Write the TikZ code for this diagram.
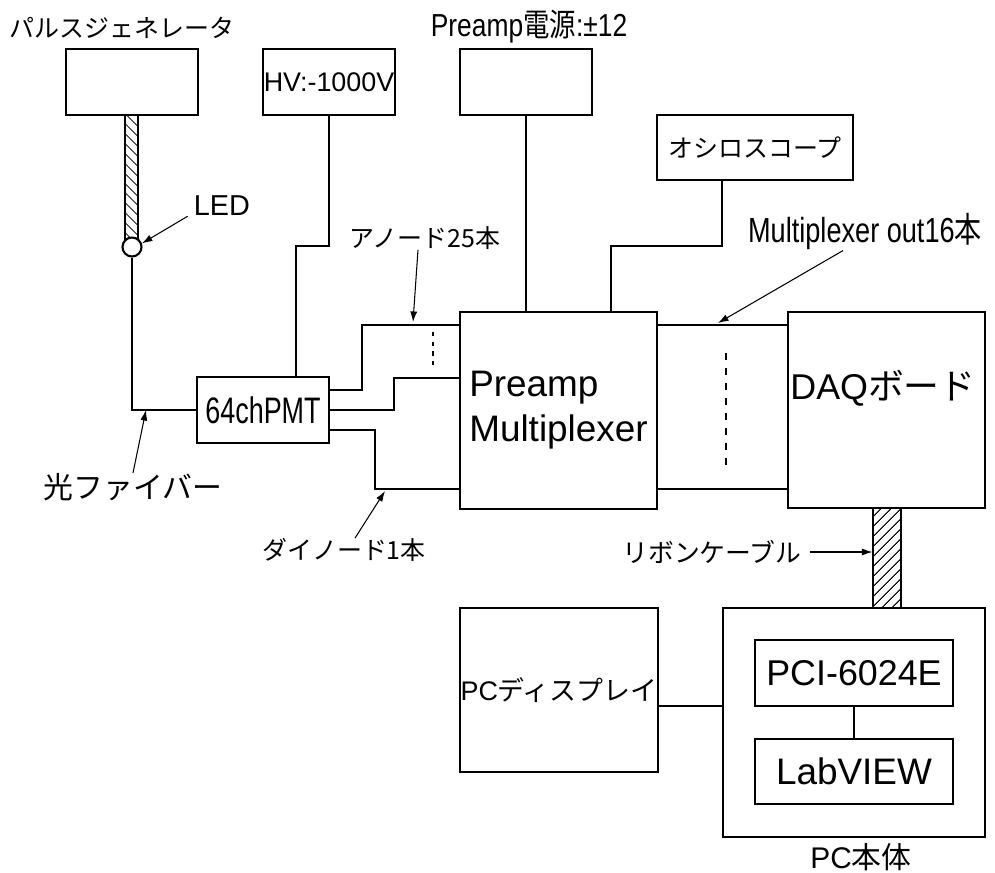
\documentclass[tikz,border=0pt]{standalone}
\usepackage{fontspec}
\usepackage{graphicx}
\setmainfont{Liberation Sans}
\newfontfamily\jp{Noto Sans CJK JP}
\usetikzlibrary{patterns.meta,arrows.meta}
\newcommand{\setpt}[2]{\fontsize{#1}{#2}\selectfont}
\newcommand{\squeeze}[2]{\scalebox{#1}[1]{#2}}

\begin{document}
\begin{tikzpicture}[x=0.02cm,y=-0.02cm,
  box/.style={draw,line width=1.4pt,inner sep=0pt},
  wire/.style={line width=1.2pt},
  callout/.style={line width=0.6pt,-{Latex[length=6pt,width=4pt]}},
  lbl/.style={inner sep=0pt},
  dotline/.style={line width=1pt,dash pattern=on 2.5pt off 3pt},
  dashline/.style={line width=1pt,dash pattern=on 4pt off 4.5pt}]
\useasboundingbox (0,0) rectangle (995,873);

% upper row
\node[lbl,font=\jp\setpt{14.2}{17}] (pulsetitle) at (122,28) {パルスジェネレータ};
\node[box,minimum width=2.64cm,minimum height=1.32cm] (pulse) at (132,82) {};
\node[box,minimum width=2.64cm,minimum height=1.32cm,font=\setpt{15.3}{18}] (hv) at (329,82) {HV:-1000V};
\node[lbl,font=\setpt{18.1}{22}] (pwrtitle) at (529,27) {\squeeze{0.83}{Preamp{\jp 電源}:±12}};
\node[box,minimum width=2.64cm,minimum height=1.32cm] (pwr) at (526,82) {};
\node[box,minimum width=3.92cm,minimum height=1.3cm,font=\jp\setpt{14.2}{17}] (osc) at (755,147.5) {オシロスコープ};

% middle row
\node[box,minimum width=2.64cm,minimum height=1.32cm,font=\setpt{21}{25}] (pmt) at (263,410) {\squeeze{0.73}{64chPMT}};
\node[box,minimum width=3.94cm,minimum height=3.94cm,align=left,font=\setpt{21}{25.5}] (preamp) at (558.5,410.5) {Preamp\\Multiplexer};
\node[box,minimum width=3.94cm,minimum height=3.92cm] (daq) at (886.5,410) {};
\node[lbl,font=\setpt{20.4}{24}] (daqtext) at (883,388) {DAQ{\jp ボード}};

% PC
\node[box,minimum width=3.96cm,minimum height=3.28cm,font=\setpt{15.3}{18}] (disp) at (559,690) {PC{\jp ディスプレイ}};
\node[box,minimum width=5.24cm,minimum height=4.58cm] (pcmain) at (854,722.5) {};
\node[lbl,font=\setpt{17}{20}] (pcname) at (861,857) {PC{\jp 本体}};
\node[box,minimum width=3.96cm,minimum height=1.32cm,font=\setpt{20.4}{24}] (pci) at (854,673) {PCI-6024E};
\node[box,minimum width=3.96cm,minimum height=1.3cm,font=\setpt{21}{25}] (lab) at (854,771.5) {LabVIEW};

% fiber, LED, ribbon
\node[draw,wire,inner sep=0pt,minimum width=0.26cm,minimum height=2.48cm,
  pattern={Lines[angle=-45,distance=4pt,line width=0.5pt]}] (fiber) at (131.5,177) {};
\node[draw,wire,circle,fill=white,inner sep=0pt,minimum size=0.38cm] (led) at (132,247) {};
\node[draw,wire,inner sep=0pt,minimum width=0.56cm,minimum height=2cm,
  pattern={Lines[angle=45,distance=4pt,line width=0.6pt]}] (ribbon) at (887,558) {};

% wires
\coordinate (hvkink) at (296,246);
\coordinate (osckink) at (611,246);
\coordinate (anodeA) at (362,325);
\coordinate (anodeB) at (394,378);
\coordinate (dynkink) at (375,489);
\coordinate (outtop) at (657,325);
\coordinate (outbot) at (657,489);
\draw[wire] (led.south) |- (pmt.west);
\draw[wire] (hv.south) |- (hvkink) -- (hvkink |- pmt.north);
\draw[wire] (pwr.south) -- (pwr.south |- preamp.north);
\draw[wire] ([xshift=-0.66cm]osc.south) |- (osckink) -- (osckink |- preamp.north);
\draw[wire] ([yshift=0.4cm]pmt.east) -| (anodeA) -- (anodeA -| preamp.west);
\draw[wire] (pmt.east) -| (anodeB) -- (anodeB -| preamp.west);
\draw[wire] ([yshift=-0.4cm]pmt.east) -| (dynkink) -- (dynkink -| preamp.west);
\draw[dotline] (433,332) -- (433,367);
\draw[wire] (outtop) -- (outtop -| daq.west);
\draw[wire] (outbot) -- (outbot -| daq.west);
\draw[dashline] (726,353) -- (726,470);
\draw[wire] ([yshift=-0.32cm]disp.east) -- ([yshift=-0.32cm]disp.east -| pcmain.west);
\draw[wire] (pci.south) -- (lab.north);

% labels with arrows
\node[lbl,font=\setpt{16.4}{20}] (ledlbl) at (222,206) {LED};
\draw[callout] ([xshift=-0.12cm]ledlbl.south west) -- (led.20);
\node[lbl,font=\jp\setpt{17}{20}] (fiblbl) at (133,487) {光ファイバー};
\coordinate (fibtip) at (146,410);
\draw[callout] (fiblbl.north) -- (fibtip);
\node[lbl,font=\jp\setpt{14.2}{17}] (anodelbl) at (425,238) {アノード25本};
\coordinate (anodetip) at (413,322);
\draw[callout] ([xshift=-0.14cm]anodelbl.south) -- (anodetip);
\node[lbl,font=\jp\setpt{14.2}{17}] (dynlbl) at (344,550) {ダイノード1本};
\coordinate (dyntip) at (385,491);
\draw[callout] ([xshift=0.22cm]dynlbl.north) -- (dyntip);
\node[lbl,font=\setpt{19.8}{24}] (muxlbl) at (865,232) {\squeeze{0.78}{Multiplexer out16{\jp 本}}};
\coordinate (muxtip) at (718,323);
\draw[callout] ([xshift=-0.44cm]muxlbl.south) -- (muxtip);
\node[lbl,font=\jp\setpt{14.7}{18}] (riblbl) at (712,552) {リボンケーブル};
\draw[callout] ([xshift=0.16cm]riblbl.east) -- (riblbl.east -| ribbon.west);
\end{tikzpicture}
\end{document}
